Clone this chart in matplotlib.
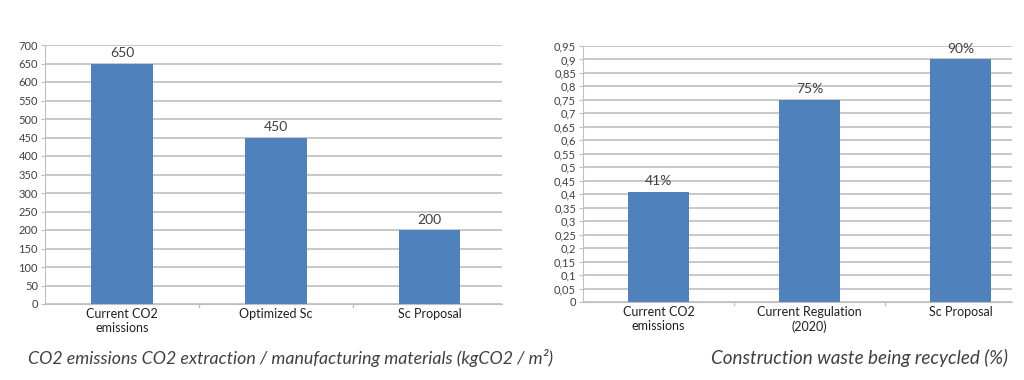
import matplotlib.pyplot as plt
import numpy as np

# data
co2_labels = ['Current CO2\nemissions', 'Optimized Sc', 'Sc Proposal']
co2_values = [650, 450, 200]
co2_ticks = np.arange(0, 701, 50)

waste_labels = ['Current CO2\nemissions', 'Current Regulation\n(2020)', 'Sc Proposal']
waste_values = [0.41, 0.75, 0.90]
waste_text = ['41%', '75%', '90%']
waste_ticks = np.arange(0, 0.951, 0.05)

bar_color = '#4F81BD'
grid_color = '#BFBFBF'
text_color = '#404040'

plt.rcParams['font.family'] = ['Lato', 'DejaVu Sans']

fig = plt.figure(figsize=(10.24, 3.8), dpi=100)
ax1 = fig.add_axes([45 / 1024, 1 - 304 / 380, 457 / 1024, 259 / 380])
ax2 = fig.add_axes([583 / 1024, 1 - 302 / 380, 429 / 1024, 256 / 380])


def style_axis(ax, ticks, labels):
    ax.set_yticks(ticks)
    ax.set_yticklabels(labels, fontsize=8, color=text_color)
    ax.yaxis.grid(True, color=grid_color, linewidth=1.2)
    ax.set_axisbelow(True)
    for s in ['top', 'right']:
        ax.spines[s].set_visible(False)
    for s in ['left', 'bottom']:
        ax.spines[s].set_color(grid_color)
    ax.tick_params(axis='y', length=3, color=grid_color, pad=2)
    ax.tick_params(axis='x', length=0, labelsize=9, pad=3, labelcolor='#202020')


# left chart
x = np.arange(len(co2_values))
bars = ax1.bar(x, co2_values, width=0.4, color=bar_color)
ax1.set_xlim(-0.5, 2.47)
ax1.set_ylim(0, 700)
ax1.set_xticks(x)
ax1.set_xticklabels(co2_labels)
style_axis(ax1, co2_ticks, [str(t) for t in co2_ticks])
for b, v in zip(bars, co2_values):
    ax1.text(b.get_x() + b.get_width() / 2, v + 12, str(v), ha='center', va='bottom',
             fontsize=10, color=text_color)
for xb in [0.5, 1.5]:
    ax1.plot([xb, xb], [0, -8], color=grid_color, lw=1, clip_on=False)

# right chart
x = np.arange(len(waste_values))
bars = ax2.bar(x, waste_values, width=0.4, color=bar_color)
ax2.set_xlim(-0.5, 2.34)
ax2.set_ylim(0, 0.95)
ax2.set_xticks(x)
ax2.set_xticklabels(waste_labels)
style_axis(ax2, waste_ticks, [('%g' % round(t, 2)).replace('.', ',') for t in waste_ticks])
for b, v, t in zip(bars, waste_values, waste_text):
    ax2.text(b.get_x() + b.get_width() / 2, v + 0.018, t, ha='center', va='bottom',
             fontsize=10, color=text_color, clip_on=False)
for xb in [0.5, 1.5]:
    ax2.plot([xb, xb], [0, -0.012], color=grid_color, lw=1, clip_on=False)

fig.text(28 / 1024, 1 - 358 / 380, 'CO2 emissions CO2 extraction / manufacturing materials (kgCO2 / m²)',
         fontsize=12.8, style='italic', color=text_color, va='center', ha='left')
fig.text(1008 / 1024, 1 - 358 / 380, 'Construction waste being recycled (%)',
         fontsize=13.6, style='italic', color=text_color, va='center', ha='right')

fig.savefig('out.png', dpi=100, facecolor='white')
